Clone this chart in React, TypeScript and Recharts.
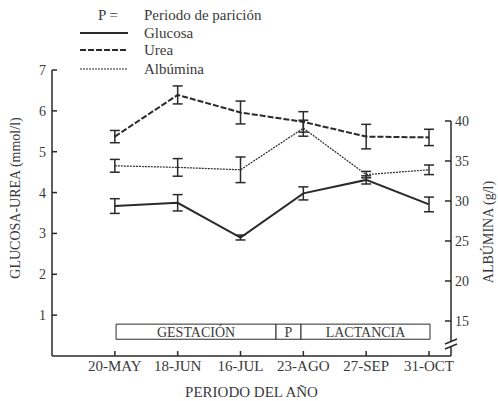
import React from 'react';
import {
  ComposedChart,
  Line,
  XAxis,
  YAxis,
  ErrorBar,
  ReferenceArea,
  ReferenceLine,
  ReferenceDot,
} from 'recharts';

const categories = ['20-MAY', '18-JUN', '16-JUL', '23-AGO', '27-SEP', '31-OCT'];
const glucosa = [3.67, 3.75, 2.9, 3.98, 4.31, 3.71];
const glucosaErr = [0.18, 0.2, 0.06, 0.16, 0.1, 0.18];
const urea = [5.37, 6.39, 5.96, 5.73, 5.37, 5.35];
const ureaErr = [0.15, 0.22, 0.28, 0.25, 0.3, 0.2];
const albumina = [34.4, 34.2, 33.9, 39.1, 33.3, 33.9];
const albuminaErr = [0.8, 1.1, 1.6, 1.0, 0.4, 0.6];
const leftTicks = [1, 2, 3, 4, 5, 6, 7];
const rightTicks = [15, 20, 25, 30, 35, 40];
const periodLabels = ['GESTACIÓN', 'P', 'LACTANCIA'];
const periodBounds = [0.02, 2.565, 2.963, 5.016];

const data = categories.map((c, i) => ({
  x: i,
  name: c,
  glucosa: glucosa[i],
  glucosaErr: glucosaErr[i],
  urea: urea[i],
  ureaErr: ureaErr[i],
  albumina: albumina[i],
  albuminaErr: albuminaErr[i],
}));

const FONT = 'Liberation Serif, Times New Roman, DejaVu Serif, serif';
const INK = '#2a2a2a';
const TXT = '#3a3a3a';

const BreakMark = (props: any) => {
  const { cx, cy } = props;
  if (cx == null || cy == null) return null;
  return (
    <g>
      <rect x={cx - 3} y={cy - 3} width={6} height={5} fill="#fff" />
      <line x1={cx - 6} y1={cy - 1} x2={cx + 6} y2={cy - 6} stroke={INK} strokeWidth={1.5} />
      <line x1={cx - 6} y1={cy + 4} x2={cx + 6} y2={cy - 1} stroke={INK} strokeWidth={1.5} />
    </g>
  );
};

const LegendOverlay = () => (
  <svg
    width={300}
    height={80}
    style={{ position: 'absolute', left: 0, top: 0, pointerEvents: 'none' }}
  >
    <g style={{ fontFamily: FONT, fontSize: 15 }} fill={TXT}>
      <text x={98} y={20}>P =</text>
      <text x={144} y={20}>Periodo de parición</text>
      <line x1={80} y1={33} x2={128} y2={33} stroke={INK} strokeWidth={2} />
      <text x={144} y={38}>Glucosa</text>
      <line x1={80} y1={50} x2={128} y2={50} stroke={INK} strokeWidth={2} strokeDasharray="6 2" />
      <text x={144} y={55}>Urea</text>
      <line x1={80} y1={69} x2={128} y2={69} stroke={INK} strokeWidth={1.2} strokeDasharray="2 1" />
      <text x={144} y={74}>Albúmina</text>
    </g>
  </svg>
);

const tickStyle = { fill: TXT, fontSize: 14, style: { fontFamily: FONT } };

export default function App() {
  return (
    <div style={{ position: 'absolute', left: 0, top: 0, width: 498, height: 401, background: '#fff', fontFamily: FONT }}>
      <ComposedChart
        width={498}
        height={401}
        data={data}
        margin={{ top: 70, right: 0, bottom: 0, left: 0 }}
        style={{ fontFamily: FONT }}
      >
        <XAxis
          dataKey="x"
          type="number"
          domain={[-1, 5.35]}
          ticks={[0, 1, 2, 3, 4, 5]}
          tickFormatter={(v: number) => categories[v] ?? ''}
          allowDataOverflow
          height={45}
          stroke={INK}
          strokeWidth={1.5}
          tickSize={-5}
          tickMargin={9}
          tick={{ ...tickStyle, fontSize: 15 }}
          label={{ value: 'PERIODO DEL AÑO', position: 'insideBottom', offset: 4, fill: TXT, fontSize: 15, style: { fontFamily: FONT } }}
        />
        <YAxis
          yAxisId="left"
          orientation="left"
          domain={[0, 7]}
          ticks={leftTicks}
          allowDataOverflow
          width={52}
          stroke={INK}
          strokeWidth={1.5}
          tickSize={-5}
          tickMargin={11}
          tick={tickStyle}
          label={{ value: 'GLUCOSA-UREA (mmol/l)', angle: -90, position: 'center', dx: -11, dy: -15, fill: TXT, fontSize: 14, style: { fontFamily: FONT } }}
        />
        <YAxis
          yAxisId="right"
          orientation="right"
          domain={[10.625, 46.375]}
          ticks={rightTicks}
          allowDataOverflow
          width={47}
          axisLine={false}
          stroke={INK}
          strokeWidth={1.5}
          tickSize={-6}
          tickMargin={10}
          tick={tickStyle}
          label={{ value: 'ALBÚMINA (g/l)', angle: -90, position: 'center', dx: 14, dy: 19, fill: TXT, fontSize: 14, style: { fontFamily: FONT } }}
        />
        <ReferenceLine
          yAxisId="right"
          segment={[{ x: 5.35, y: 10.625 }, { x: 5.35, y: 40 }]}
          stroke={INK}
          strokeWidth={1.5}
          ifOverflow="visible"
        />
        <ReferenceDot
          yAxisId="right"
          x={5.35}
          y={12}
          ifOverflow="visible"
          shape={BreakMark}
        />
        {periodLabels.map((lab, i) => (
          <ReferenceArea
            key={lab}
            yAxisId="left"
            x1={periodBounds[i]}
            x2={periodBounds[i + 1]}
            y1={0.41}
            y2={0.78}
            fill="#fff"
            fillOpacity={1}
            stroke={INK}
            strokeWidth={1}
            ifOverflow="visible"
            label={{ value: lab, position: 'center', fill: TXT, fontSize: 14, style: { fontFamily: FONT } }}
          />
        ))}
        <Line
          yAxisId="left"
          dataKey="glucosa"
          stroke={INK}
          strokeWidth={2}
          dot={false}
          isAnimationActive={false}
        >
          <ErrorBar dataKey="glucosaErr" width={5} stroke={INK} strokeWidth={1.5} direction="y" />
        </Line>
        <Line
          yAxisId="left"
          dataKey="urea"
          stroke={INK}
          strokeWidth={2}
          strokeDasharray="6 2"
          dot={false}
          isAnimationActive={false}
        >
          <ErrorBar dataKey="ureaErr" width={5} stroke={INK} strokeWidth={1.5} direction="y" />
        </Line>
        <Line
          yAxisId="right"
          dataKey="albumina"
          stroke={INK}
          strokeWidth={1.2}
          strokeDasharray="2 1"
          dot={false}
          isAnimationActive={false}
        >
          <ErrorBar dataKey="albuminaErr" width={5} stroke={INK} strokeWidth={1.5} direction="y" />
        </Line>
      </ComposedChart>
      <LegendOverlay />
    </div>
  );
}
